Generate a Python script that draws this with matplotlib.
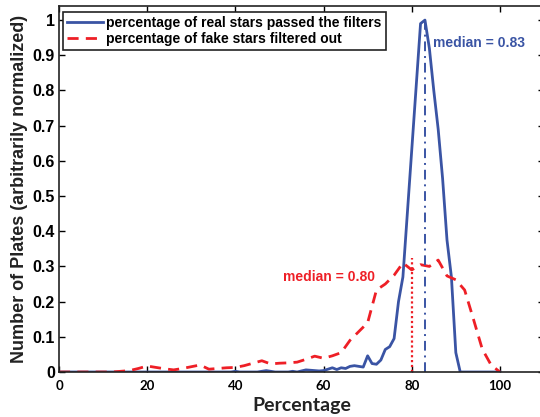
import matplotlib
matplotlib.use("Agg")
import matplotlib.pyplot as plt
import numpy as np

# ---- data ----
real_x = list(range(0, 101))
real_y = [0.0] * 40 + [
    0.002, 0.0, 0.0, 0.0, 0.0, 0.0, 0.002, 0.004, 0.002, 0.0,   # 40-49
    0.0, 0.0, 0.0, 0.002, 0.0, 0.003, 0.006, 0.005, 0.004, 0.003,  # 50-59
    0.004, 0.008, 0.012, 0.007, 0.012, 0.010, 0.016, 0.018, 0.016, 0.014,  # 60-69
    0.046, 0.024, 0.022, 0.034, 0.064, 0.072, 0.095, 0.200, 0.270, 0.450,  # 70-79
    0.630, 0.810, 0.990, 1.000, 0.920, 0.800, 0.690, 0.550, 0.375, 0.270,  # 80-89
    0.055, 0.000, 0.0, 0.0, 0.0, 0.0, 0.0, 0.0, 0.0, 0.0, 0.0,  # 90-100
]

fake_x = list(range(0, 101, 2))
fake_y = [0.0, 0.0, 0.0, 0.0, 0.0, 0.0, 0.0, 0.002, 0.004, 0.010,  # 0-18
          0.017, 0.013, 0.009, 0.006, 0.010, 0.015, 0.020, 0.008, 0.010, 0.012,  # 20-38
          0.013, 0.018, 0.025, 0.032, 0.023, 0.025, 0.026, 0.028, 0.036, 0.045,  # 40-58
          0.039, 0.046, 0.055, 0.090, 0.115, 0.140, 0.233, 0.250, 0.275, 0.310,  # 60-78
          0.290, 0.305, 0.300, 0.318, 0.273, 0.262, 0.233, 0.150, 0.065, 0.020,  # 80-98
          0.0]

median_real = 83
median_fake = 80
median_real_top = 1.0
median_fake_top = 0.325
xticks = [0, 20, 40, 60, 80, 100]
yticks = [0, 0.1, 0.2, 0.3, 0.4, 0.5, 0.6, 0.7, 0.8, 0.9, 1.0]
ytick_labels = ['0', '0.1', '0.2', '0.3', '0.4', '0.5', '0.6', '0.7', '0.8', '0.9', '1']

BLUE = '#3a54a4'
RED = '#ee1f26'
ARIAL = ['Liberation Sans', 'DejaVu Sans']
CALIBRI = ['Lato', 'DejaVu Sans']

fig = plt.figure(figsize=(5.4, 4.17), dpi=100)
ax = fig.add_axes([59/540, 45/417, 485/540, 366/417])

ax.plot(real_x, real_y, color=BLUE, lw=2.0, label='percentage of real stars passed the filters')
ax.plot(fake_x, fake_y, color=RED, lw=2.0, dashes=(4, 2.6), label='percentage of fake stars filtered out')
ax.plot([median_fake, median_fake], [0, median_fake_top], color=RED, lw=1.6, ls=(0, (1, 1.2)))
ax.plot([median_real, median_real], [0, median_real_top], color=BLUE, lw=1.4, ls=(0, (5, 2.5, 1, 2.5)))

ax.text(84.8, 0.935, 'median = 0.83', color=BLUE, fontsize=10, fontweight='bold',
        family=ARIAL, va='center', ha='left')
ax.text(71.7, 0.27, 'median = 0.80', color=RED, fontsize=10, fontweight='bold',
        family=ARIAL, va='center', ha='right')

ax.set_xlim(0, 110)
ax.set_ylim(0, 1.04)
ax.set_xticks(xticks)
ax.set_xticklabels([str(v) for v in xticks], fontsize=9.5, fontweight='bold', family=CALIBRI)
ax.set_yticks(yticks)
ax.set_yticklabels(ytick_labels, fontsize=11.5, fontweight='bold', family=ARIAL)
ax.tick_params(direction='in', length=4, width=1, top=True, right=True)
ax.tick_params(axis='x', pad=6)
ax.tick_params(axis='y', pad=3)
for s in ax.spines.values():
    s.set_linewidth(1.2)
    s.set_color('#222222')

ax.set_xlabel('Percentage', fontsize=14, fontweight='bold', family=CALIBRI, labelpad=3, color='#222222')
ax.set_ylabel('Number of Plates (arbitrarily normalized)', fontsize=13, fontweight='bold',
              family=ARIAL, labelpad=3, color='#222222')

leg = ax.legend(loc='upper left', bbox_to_anchor=(4/485, 1 - 6/366), borderaxespad=0,
                prop={'family': ARIAL, 'weight': 'bold', 'size': 10},
                handlelength=2.6, handletextpad=0.2, labelspacing=0.15,
                borderpad=0.3, fancybox=False, framealpha=1, edgecolor='#222222')
leg.get_frame().set_linewidth(1.2)

fig.savefig('out.png', dpi=100)
